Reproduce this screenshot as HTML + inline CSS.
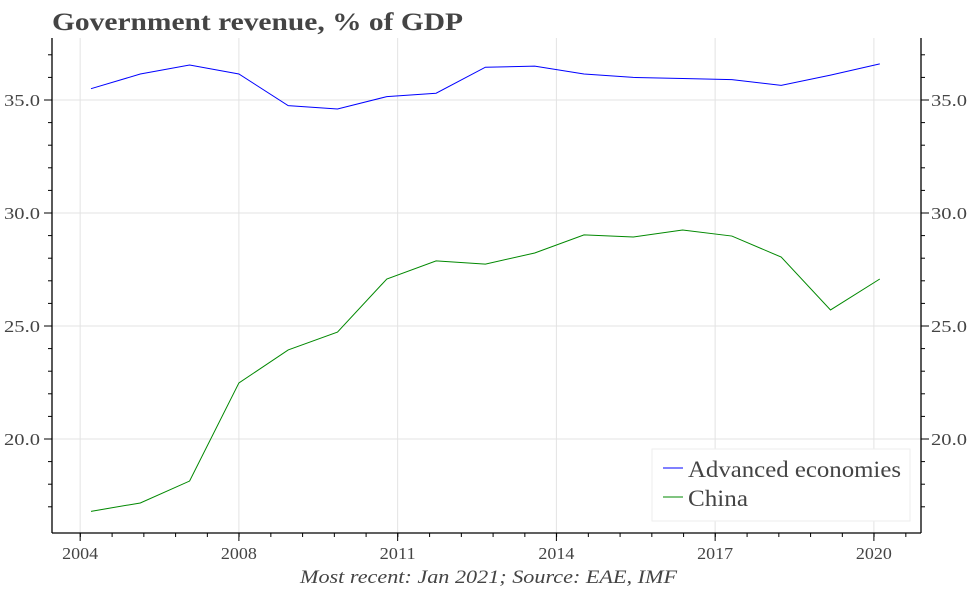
<!DOCTYPE html>
<html><head><meta charset="utf-8"><style>
body{margin:0;background:#fff;}
svg text{font-family:"Liberation Serif",serif;fill:#444;}
</style></head><body>
<svg id="chart" width="972" height="589">
<text x="52" y="30" font-size="25" font-weight="bold" textLength="411" lengthAdjust="spacingAndGlyphs">Government revenue, % of GDP</text>
<g id="grid"></g><g id="axes"></g><g id="series"></g>
<text x="300" y="583" font-size="19" font-style="italic" textLength="377" lengthAdjust="spacingAndGlyphs">Most recent: Jan 2021; Source: EAE, IMF</text>
<g>
<rect x="652" y="449" width="258" height="72" fill="#fff" stroke="#eee"/>
<line x1="663" y1="468" x2="683" y2="468" stroke="#00f"/>
<text x="688" y="477" font-size="23" textLength="213" lengthAdjust="spacingAndGlyphs">Advanced economies</text>
<line x1="663" y1="497" x2="683" y2="497" stroke="#080"/>
<text x="688" y="506" font-size="23" textLength="60" lengthAdjust="spacingAndGlyphs">China</text>
</g>
</svg>
<script>
const years=[2004,2005,2006,2007,2008,2009,2010,2011,2012,2013,2014,2015,2016,2017,2018,2019,2020];
const advanced=[35.5,36.15,36.55,36.15,34.75,34.6,35.15,35.3,36.45,36.5,36.15,36.0,35.95,35.9,35.65,36.1,36.6];
const china=[16.8,17.17,18.14,22.48,23.94,24.73,27.08,27.88,27.74,28.23,29.03,28.94,29.25,28.98,28.05,25.71,27.08];
const xTickVals=[2003.78,2007.0,2010.22,2013.44,2016.66,2019.88];
const xTickLabels=["2004","2008","2011","2014","2017","2020"];
const yTickVals=[20,25,30,35];
const yTickLabels=["20.0","25.0","30.0","35.0"];
const L=52,R=921,T=38,B=533;
const x=v=>91+(v-2004)*49.3;
const y=v=>100+(35-v)*22.6;
const NS="http://www.w3.org/2000/svg";
function mk(par,tag,a){const e=document.createElementNS(NS,tag);for(const k in a)e.setAttribute(k,a[k]);document.getElementById(par).appendChild(e);return e;}
xTickVals.forEach(v=>{const e=mk('grid','line',{x1:x(v),x2:x(v),y1:T,y2:B,stroke:'#e3e3e3'});

});
yTickVals.forEach(v=>{const e=mk('grid','line',{x1:L,x2:R,y1:y(v),y2:y(v),stroke:'#e3e3e3'});

});
[[L,T,L,B,'left-axis'],[R,T,R,B,'right-axis'],[L,B,R,B,'x-axis']].forEach(s=>{const e=mk('axes','line',{x1:s[0],y1:s[1],x2:s[2],y2:s[3],stroke:'#000','stroke-width':1.3});

});
for(let v=xTickVals[0]-0.64;v<2021;v+=0.644){const px=x(v);if(px<L||px>R)continue;mk('axes','line',{x1:px,x2:px,y1:B,y2:B+4,stroke:'#000'});}
xTickVals.forEach((v,i)=>{mk('axes','line',{x1:x(v),x2:x(v),y1:B,y2:B+8,stroke:'#000'});
const t=mk('axes','text',{x:x(v),y:B+26,'font-size':17,'text-anchor':'middle',textLength:36,lengthAdjust:'spacingAndGlyphs'});t.textContent=xTickLabels[i];

});
for(let v=17;v<=37;v++){mk('axes','line',{x1:L-4,x2:L,y1:y(v),y2:y(v),stroke:'#000'});mk('axes','line',{x1:R,x2:R+4,y1:y(v),y2:y(v),stroke:'#000'});}
yTickVals.forEach((v,i)=>{mk('axes','line',{x1:L-8,x2:L,y1:y(v),y2:y(v),stroke:'#000'});mk('axes','line',{x1:R,x2:R+8,y1:y(v),y2:y(v),stroke:'#000'});
const a=mk('axes','text',{x:L-12,y:y(v)+6,'font-size':17,'text-anchor':'end',textLength:36,lengthAdjust:'spacingAndGlyphs'});a.textContent=yTickLabels[i];


const b=mk('axes','text',{x:R+10,y:y(v)+6,'font-size':17,textLength:36,lengthAdjust:'spacingAndGlyphs'});b.textContent=yTickLabels[i];

});
const p1=mk('series','polyline',{points:years.map((yr,i)=>x(yr)+','+y(advanced[i])).join(' '),fill:'none',stroke:'#00f','stroke-width':1});


const p2=mk('series','polyline',{points:years.map((yr,i)=>x(yr)+','+y(china[i])).join(' '),fill:'none',stroke:'#080','stroke-width':1});


</script>
</body></html>
